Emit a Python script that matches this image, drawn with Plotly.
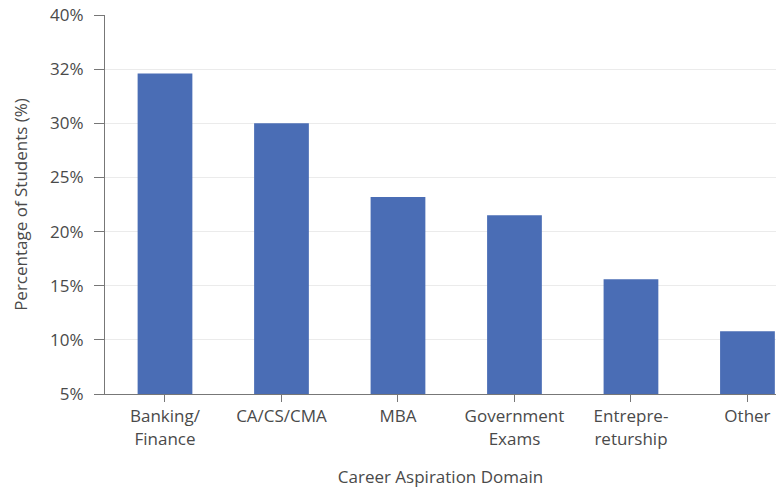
import plotly.graph_objects as go

categories = ["Banking/<br>Finance", "CA/CS/CMA", "MBA", "Government<br>Exams", "Entrepre-<br>returship", "Other"]
values = [34.6, 30.0, 23.2, 21.5, 15.6, 10.8]
baseline = 5
tick_vals = [5, 10, 15, 20, 25, 30, 35, 40]
tick_text = ["5%", "10%", "15%", "20%", "25%", "30%", "32%", "40%"]

FONT = "Open Sans"
TXT = "#4a4a4a"
FS = 17

fig = go.Figure(go.Bar(
    x=list(range(len(categories))),
    y=[v - baseline for v in values],
    base=baseline,
    marker=dict(color="#4a6db5", line=dict(width=0)),
    width=0.47,
))

fig.update_layout(
    width=776, height=491,
    margin=dict(l=105, r=0, t=15, b=97),
    paper_bgcolor="white", plot_bgcolor="white",
    font=dict(family=FONT, size=FS, color=TXT),
    showlegend=False,
    xaxis=dict(
        range=[-0.515, 5.245],
        tickvals=list(range(len(categories))),
        ticktext=categories,
        ticks="outside", tickson="boundaries", ticklen=7, tickcolor="#777",
        showline=True, linecolor="#777", linewidth=1,
        showgrid=False, zeroline=False,
        tickfont=dict(size=FS, color=TXT),
        title=dict(text="Career Aspiration Domain", font=dict(size=FS, color=TXT), standoff=22),
    ),
    yaxis=dict(
        range=[5, 40],
        tickvals=tick_vals, ticktext=tick_text,
        ticks="outside", ticklen=10, tickcolor="#777",
        showline=True, linecolor="#777", linewidth=1,
        showgrid=True, gridcolor="#ebebeb", gridwidth=1,
        zeroline=False,
        tickfont=dict(size=FS, color=TXT),
        ticklabelstandoff=7,
        title=dict(text="Percentage of Students (%)", font=dict(size=FS, color=TXT), standoff=18),
    ),
)

fig.write_html("out.html")
